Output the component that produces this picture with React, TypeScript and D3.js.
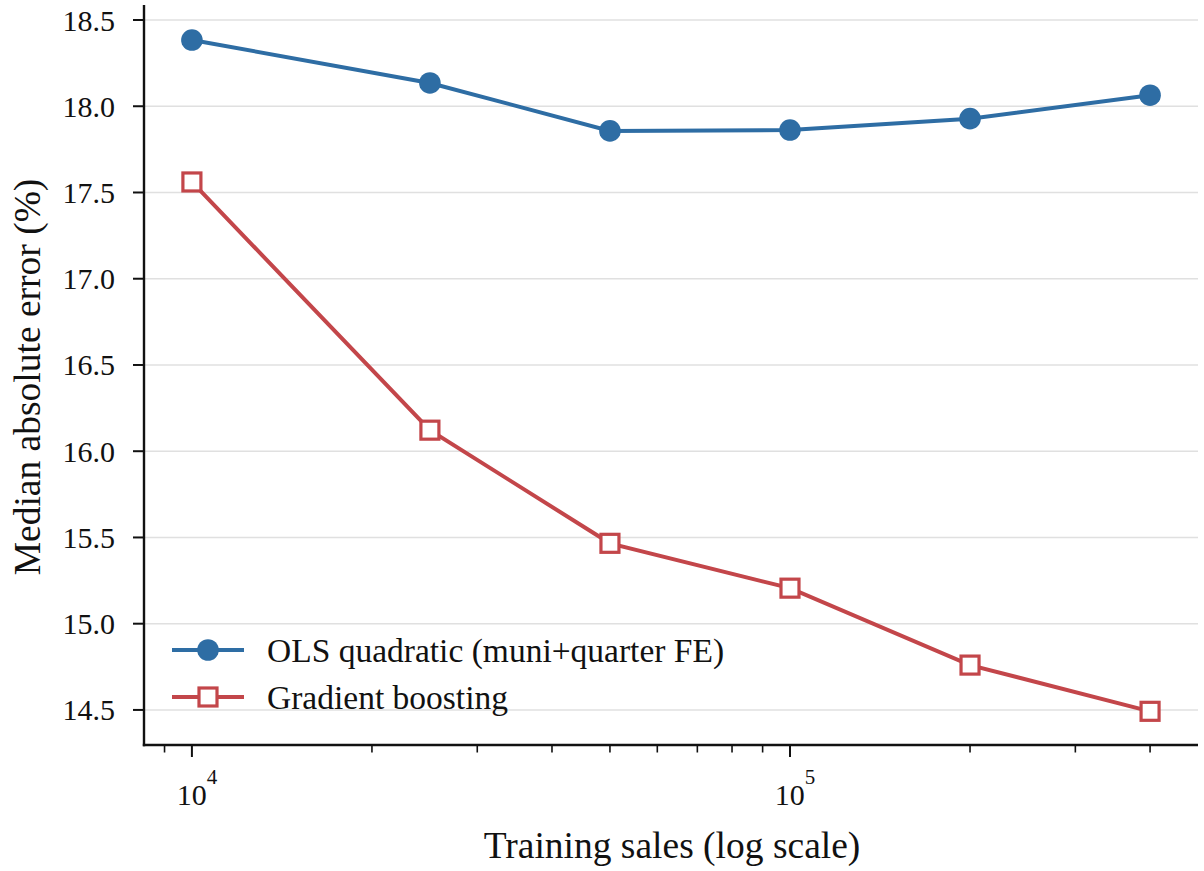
import React from "react";
import * as d3 from "d3";

const trainSizes = [10000, 25000, 50000, 100000, 200000, 400000];
const olsMAE = [18.384, 18.135, 17.857, 17.862, 17.928, 18.064];
const gbMAE = [17.561, 16.122, 15.466, 15.206, 14.760, 14.492];
const yTicks = [14.5, 15.0, 15.5, 16.0, 16.5, 17.0, 17.5, 18.0, 18.5];
const xMajor = [10000, 100000];
const xMinor = [9000, 20000, 30000, 40000, 50000, 60000, 70000, 80000, 90000, 200000, 300000, 400000];
const seriesNames = ["OLS quadratic (muni+quarter FE)", "Gradient boosting"];

const W = 1204;
const H = 871;
const left = 144;
const right = 1198;
const top = 5;
const bottom = 745;
const BLUE = "#2e6da4";
const RED = "#c3464a";
const FONT = "'Liberation Serif', 'Times New Roman', serif";

export default function App() {
  const x = d3.scaleLog().domain([10 ** 3.9199, 10 ** 5.6822]).range([left, right]);
  const y = d3.scaleLinear().domain([14.2967, 18.5870]).range([bottom, top]);
  const line = d3
    .line<number>()
    .x((_, i) => x(trainSizes[i]))
    .y((d) => y(d));

  return (
    <svg width={W} height={H} style={{ position: "absolute", left: 0, top: 0, background: "#fff" }}>
      {/* grid */}
      {yTicks.map((t) => (
        <line key={"g" + t} x1={left} x2={right} y1={y(t)} y2={y(t)} stroke="#e0e0e0" strokeWidth={1.6} />
      ))}
      {/* series lines */}
      <path d={line(olsMAE) || ""} fill="none" stroke={BLUE} strokeWidth={4} />
      <path d={line(gbMAE) || ""} fill="none" stroke={RED} strokeWidth={4} />
      {olsMAE.map((v, i) => (
        <circle key={"o" + i} cx={x(trainSizes[i])} cy={y(v)} r={10.8} fill={BLUE} />
      ))}
      {gbMAE.map((v, i) => (
        <rect
          key={"r" + i}
          x={x(trainSizes[i]) - 9}
          y={y(v) - 9}
          width={18}
          height={18}
          fill="#fff"
          stroke={RED}
          strokeWidth={3.2}
        />
      ))}
      {/* axes */}
      <line x1={left} x2={left} y1={top} y2={bottom + 1.2} stroke="#111" strokeWidth={2.4} />
      <line x1={left - 1.2} x2={right} y1={bottom} y2={bottom} stroke="#111" strokeWidth={2.4} />
      {yTicks.map((t) => (
        <g key={"yt" + t}>
          <line x1={left - 11} x2={left} y1={y(t)} y2={y(t)} stroke="#111" strokeWidth={2} />
          <text
            x={left - 29}
            y={y(t)}
            textAnchor="end"
            dominantBaseline="central"
            fontFamily={FONT}
            fontSize={30}
            fill="#111"
          >
            {t.toFixed(1)}
          </text>
        </g>
      ))}
      {xMajor.map((t) => (
        <g key={"xm" + t}>
          <line x1={x(t)} x2={x(t)} y1={bottom} y2={bottom + 12} stroke="#111" strokeWidth={2} />
          <text x={x(t) + 5} y={805} textAnchor="middle" fontFamily={FONT} fontSize={30} fill="#111">
            <tspan>10</tspan>
            <tspan dy={-21} fontSize={21}>
              {Math.round(Math.log10(t))}
            </tspan>
          </text>
        </g>
      ))}
      {xMinor.map((t) => (
        <line key={"xn" + t} x1={x(t)} x2={x(t)} y1={bottom} y2={bottom + 7.5} stroke="#111" strokeWidth={1.6} />
      ))}
      {/* axis labels */}
      <text x={(left + right) / 2 + 1} y={858} textAnchor="middle" fontFamily={FONT} fontSize={37.5} fill="#111">
        Training sales (log scale)
      </text>
      <text
        transform={`translate(40, ${(top + bottom) / 2 + 2}) rotate(-90)`}
        textAnchor="middle"
        fontFamily={FONT}
        fontSize={37.5}
        fill="#111"
      >
        Median absolute error (%)
      </text>
      {/* legend */}
      <g>
        <line x1={172} x2={244} y1={650} y2={650} stroke={BLUE} strokeWidth={4} />
        <circle cx={208} cy={650} r={10.8} fill={BLUE} />
        <text x={267} y={650} dominantBaseline="central" fontFamily={FONT} fontSize={33.5} fill="#111">
          {seriesNames[0]}
        </text>
        <line x1={172} x2={244} y1={697} y2={697} stroke={RED} strokeWidth={4} />
        <rect x={199} y={688} width={18} height={18} fill="#fff" stroke={RED} strokeWidth={3.2} />
        <text x={267} y={697} dominantBaseline="central" fontFamily={FONT} fontSize={33.5} fill="#111">
          {seriesNames[1]}
        </text>
      </g>
    </svg>
  );
}
